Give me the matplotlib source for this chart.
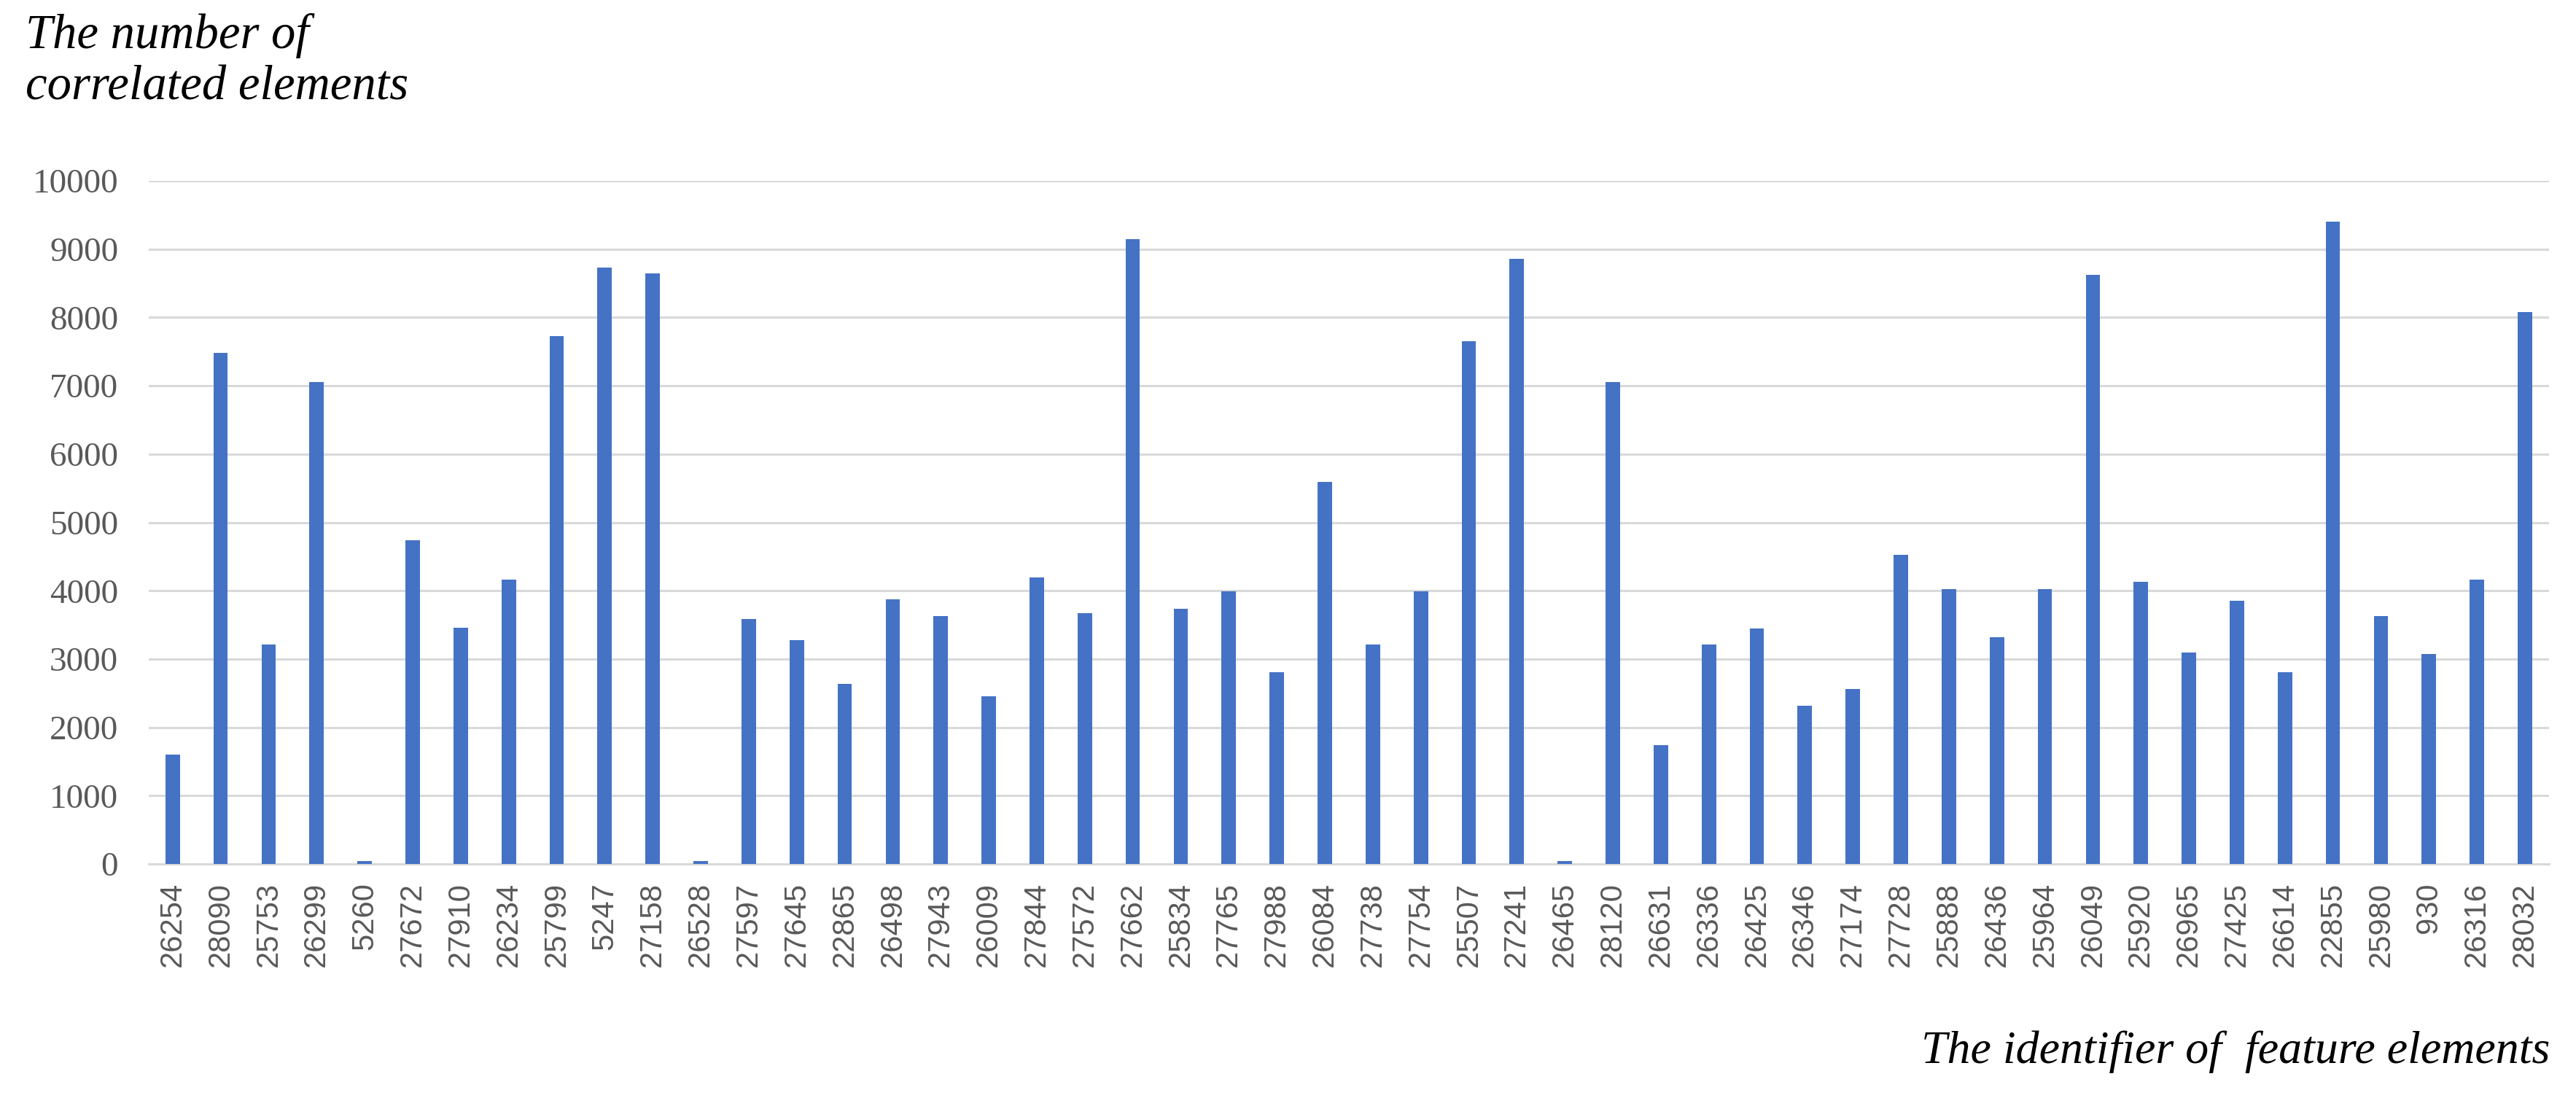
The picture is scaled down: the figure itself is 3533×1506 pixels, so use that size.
import numpy as np
import matplotlib
matplotlib.use('Agg')
from matplotlib import pyplot as plt

# identifiers of feature elements (x axis, in plotted order)
ids = ['26254', '28090', '25753', '26299', '5260', '27672', '27910', '26234', '25799', '5247',
       '27158', '26528', '27597', '27645', '22865', '26498', '27943', '26009', '27844', '27572',
       '27662', '25834', '27765', '27988', '26084', '27738', '27754', '25507', '27241', '26465',
       '28120', '26631', '26336', '26425', '26346', '27174', '27728', '25888', '26436', '25964',
       '26049', '25920', '26965', '27425', '26614', '22855', '25980', '930', '26316', '28032']

# number of correlated elements
counts = [1600, 7480, 3210, 7050, 40, 4740, 3460, 4160, 7730, 8730,
          8650, 40, 3590, 3280, 2640, 3880, 3630, 2460, 4200, 3670,
          9150, 3740, 3990, 2810, 5590, 3210, 3990, 7650, 8860, 40,
          7050, 1740, 3210, 3450, 2320, 2560, 4530, 4020, 3320, 4020,
          8620, 4130, 3100, 3850, 2810, 9400, 3630, 3070, 4160, 8080]

yticks = [0, 1000, 2000, 3000, 4000, 5000, 6000, 7000, 8000, 9000, 10000]

fig = plt.figure(figsize=(35.33, 15.06), dpi=100)
ax = fig.add_axes([0.0577, 0.2131, 0.9318, 0.6222])

x = np.arange(len(ids))
ax.bar(x, counts, width=0.3, color='#4472C4', zorder=3)

ax.set_xlim(-0.5, len(ids) - 0.5)
ax.set_ylim(0, 10000)
ax.set_yticks(yticks)
ax.set_yticklabels([str(v) for v in yticks], family='Liberation Serif', fontsize=34, color='#595959')
ax.set_xticks(x)
ax.set_xticklabels(ids, rotation=90, family='Liberation Sans', fontsize=30, color='#595959')

ax.grid(axis='y', color='#D9D9D9', linewidth=2.2, zorder=0)
for s in ['top', 'right', 'left']:
    ax.spines[s].set_visible(False)
ax.spines['bottom'].set_color('#D9D9D9')
ax.spines['bottom'].set_linewidth(2.2)
ax.tick_params(axis='y', length=0, pad=30)
ax.tick_params(axis='x', length=0, pad=18)

# axis titles in the Excel style: y title above, x title at bottom right
fig.text(0.010, 0.988, 'The number of\ncorrelated elements', ha='left', va='top',
         family='Liberation Serif', style='italic', fontsize=48, linespacing=1.2)
fig.text(0.990, 0.042, 'The identifier of  feature elements', ha='right', va='center',
         family='Liberation Serif', style='italic', fontsize=46)

fig.savefig('out.png', dpi=100, facecolor='white')
